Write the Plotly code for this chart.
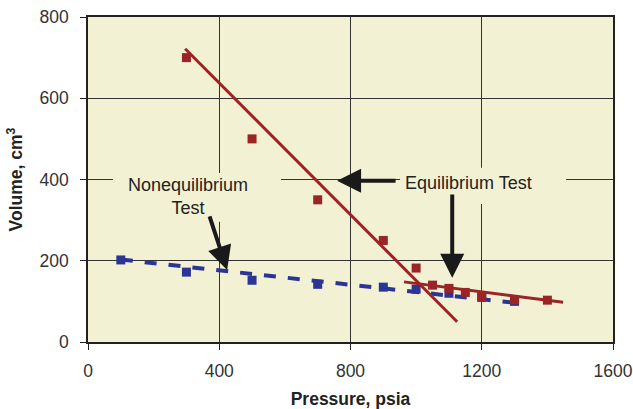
import plotly.graph_objects as go

# Data
eq_p = [300, 500, 700, 900, 1000, 1050, 1100, 1150, 1200, 1300, 1400]
eq_v = [700, 500, 350, 250, 182, 140, 132, 122, 111, 104, 103]
neq_p = [100, 300, 500, 700, 900, 1000, 1100, 1200, 1300]
neq_v = [202, 172, 152, 142, 135, 130, 120, 110, 100]
fit1_p = [296, 1125]
fit1_v = [722, 50]
fit2_p = [963, 1448]
fit2_v = [148, 98]
neq_fit_p = [100, 1295]
neq_fit_v = [203, 97]

x_ticks = [0, 400, 800, 1200, 1600]
y_ticks = [0, 200, 400, 600, 800]

RED = "#9B2426"
BLUE = "#2B3595"
BG = "#F3F1D3"
FONT = "Liberation Sans, Arial"

fig = go.Figure()
fig.add_trace(go.Scatter(x=neq_fit_p, y=neq_fit_v, mode="lines",
                         line=dict(color=BLUE, width=4, dash="dash"), showlegend=False))
fig.add_trace(go.Scatter(x=neq_p, y=neq_v, mode="markers",
                         marker=dict(symbol="square", size=9, color=BLUE), showlegend=False))
fig.add_trace(go.Scatter(x=fit1_p, y=fit1_v, mode="lines",
                         line=dict(color=RED, width=3), showlegend=False))
fig.add_trace(go.Scatter(x=fit2_p, y=fit2_v, mode="lines",
                         line=dict(color=RED, width=3), showlegend=False))
fig.add_trace(go.Scatter(x=eq_p, y=eq_v, mode="markers",
                         marker=dict(symbol="square", size=9, color=RED), showlegend=False))

# label backgrounds covering gridlines
fig.add_shape(type="rect", x0=76, x1=588, y0=296, y1=416, xref="x", yref="y",
              fillcolor=BG, line=dict(width=0), layer="between")
fig.add_shape(type="rect", x0=951, x1=1457, y0=340, y1=429, xref="x", yref="y",
              fillcolor=BG, line=dict(width=0), layer="between")

fig.add_annotation(x=305, y=358, xref="x", yref="y", text="Nonequilibrium<br>Test",
                   showarrow=False, font=dict(family=FONT, size=18, color="#222"))
fig.add_annotation(x=1159, y=392, xref="x", yref="y", text="Equilibrium Test",
                   showarrow=False, font=dict(family=FONT, size=18, color="#222"))

# arrows
arrows = [((369, 313), (424, 177)), ((942, 397), (759, 397)), ((1110, 367), (1110, 158))]
for (tx, ty), (hx, hy) in arrows:
    fig.add_annotation(x=hx, y=hy, ax=tx, ay=ty, xref="x", yref="y", axref="x", ayref="y",
                       text="", showarrow=True, arrowhead=2, arrowsize=1.2, arrowwidth=4,
                       arrowcolor="#1a1a1a")

fig.update_xaxes(range=[0, 1600], tickvals=x_ticks, showgrid=True, gridcolor="#333", gridwidth=1,
                 showline=True, linecolor="#222", linewidth=1.5, mirror=True,
                 ticks="outside", ticklen=6, tickcolor="#222", zeroline=False,
                 ticklabeloverflow="allow", ticklabelstandoff=6, automargin=False,
                 tickfont=dict(family=FONT, size=17.5, color="#333"),
                 title=dict(text="<b>Pressure, psia</b>", standoff=16,
                            font=dict(family=FONT, size=17.5, color="#222")))
fig.update_yaxes(range=[0, 800], tickvals=y_ticks, showgrid=True, gridcolor="#333", gridwidth=1,
                 showline=True, linecolor="#222", linewidth=1.5, mirror=True,
                 ticks="outside", ticklen=6, tickcolor="#222", zeroline=False,
                 ticklabelstandoff=8, automargin=False,
                 tickfont=dict(family=FONT, size=17.5, color="#333"),
                 title=dict(text="<b>Volume, cm<sup>3</sup></b>", standoff=12,
                            font=dict(family=FONT, size=17.5, color="#222")))

fig.update_layout(width=633, height=409, margin=dict(l=88, r=20, t=17, b=67),
                  plot_bgcolor=BG, paper_bgcolor="white")

fig.write_html("out.html")
